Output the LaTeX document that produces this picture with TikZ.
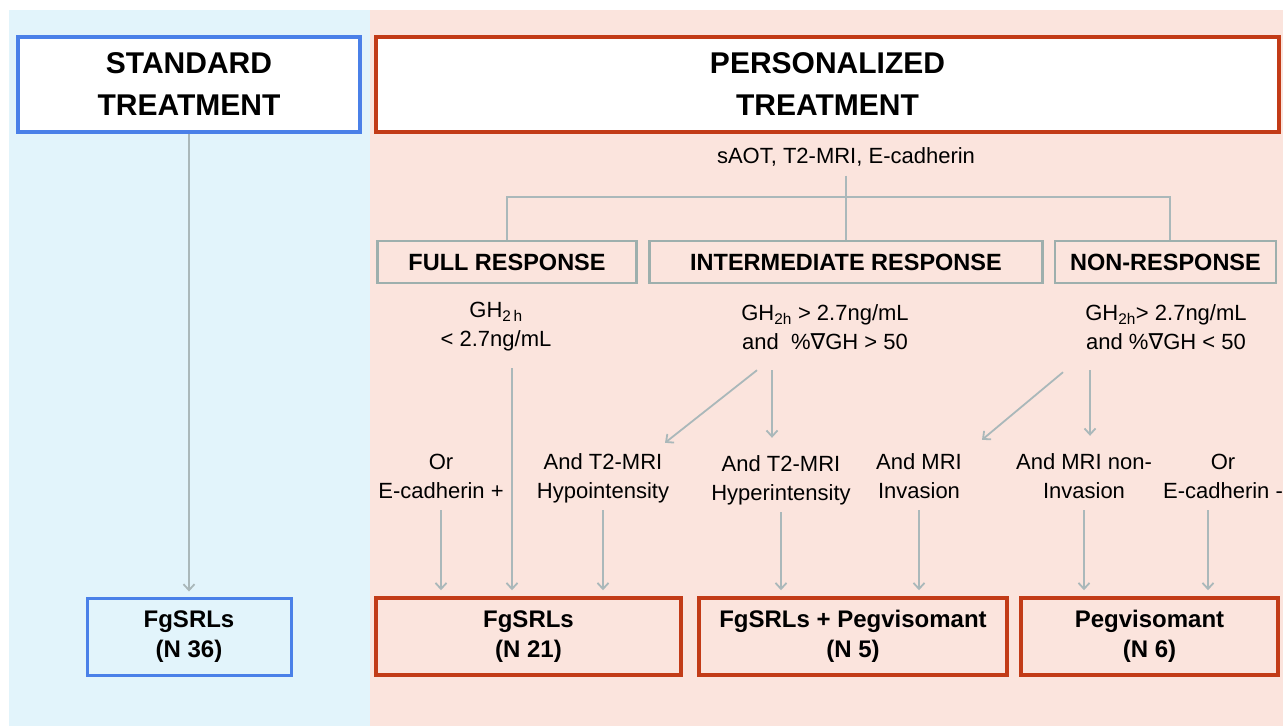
\documentclass[tikz,border=0pt]{standalone}
\usepackage{fontspec}
\setmainfont{Liberation Sans}
\newfontfamily\dv{DejaVu Sans}
\usetikzlibrary{arrows.meta}
\definecolor{bluebg}{HTML}{E2F4FB}
\definecolor{pinkbg}{HTML}{FBE4DD}
\definecolor{blueln}{HTML}{4A80E8}
\definecolor{redln}{HTML}{C23B17}
\definecolor{conn}{HTML}{AAB8BA}
\definecolor{respln}{HTML}{9DAFAD}
\begin{document}
\begin{tikzpicture}[x=1pt,y=-1pt,
  title/.style={font=\fontsize{30}{42}\selectfont\bfseries, align=center, fill=white, line width=3.5pt, inner sep=0pt, minimum height=95pt},
  resp/.style={draw=respln, line width=2.5pt, font=\fontsize{23.5}{28}\selectfont\bfseries, minimum height=42pt, inner sep=0pt},
  result/.style={draw=redln, line width=3.5pt, font=\fontsize{24}{30}\selectfont\bfseries, align=center, minimum height=77pt, inner sep=0pt},
  lab/.style={font=\fontsize{22}{29}\selectfont, align=center, inner sep=0pt},
  ln/.style={draw=conn, line width=1.8pt},
  arr/.style={ln, -{Straight Barb[length=6pt,width=11pt]}},
]
\useasboundingbox (0,0) rectangle (1283,726);
\fill[white] (0,0) rectangle (1283,726);
\fill[bluebg] (9,10) rectangle (370,726);
\fill[pinkbg] (370,10) rectangle (1283,726);

% title boxes
\node[title, draw=blueln, minimum width=342pt] (std) at (189,84.5) {STANDARD\\TREATMENT};
\node[title, draw=redln, line width=4pt, minimum width=903pt] (pers) at (827.5,84.5) {PERSONALIZED\\TREATMENT};

\node[lab] (saot) at (846,158) {\strut sAOT, T2-MRI, E-cadherin};

% response boxes
\node[resp, minimum width=259pt] (full) at (507,262) {FULL RESPONSE};
\node[resp, minimum width=393pt] (inter) at (846,262) {INTERMEDIATE RESPONSE};
\node[resp, minimum width=221pt] (non) at (1165.5,262) {NON-RESPONSE};

% tree
\coordinate (hub) at (846,197);
\draw[ln] ([yshift=-3pt]saot.south) -- (inter.north);
\draw[ln] (full.north) |- (hub) -| ([xshift=4.5pt]non.north);

% criteria
\node[lab] (gfull) at (496,326) {\strut GH\textsubscript{2\,h}\\\strut < 2.7ng/mL};
\node[lab] (ginter) at (825,329) {\strut GH\textsubscript{2h} > 2.7ng/mL\\\strut and\ \ \%{\dv ∇}GH > 50};
\node[lab] (gnon) at (1166,329) {\strut GH\textsubscript{2h}> 2.7ng/mL\\\strut and \%{\dv ∇}GH < 50};

% sub-criteria
\node[lab] (or1) at (441,478) {\strut Or\\\strut E-cadherin +};
\node[lab] (hypo) at (603,478) {\strut And T2-MRI\\\strut Hypointensity};
\node[lab] (hyper) at (781,480) {\strut And T2-MRI\\\strut Hyperintensity};
\node[lab] (inv) at (919,478) {\strut And MRI\\\strut Invasion};
\node[lab] (noninv) at (1084,478) {\strut And MRI non-\\\strut Invasion};
\node[lab] (or2) at (1223,478) {\strut Or\\\strut E-cadherin -};

% result boxes
\node[result, draw=blueln, line width=3pt, minimum width=204pt] (stdres) at (189,636.5) {FgSRLs\\(N 36)};
\node[result, minimum width=305pt] (b1) at (528.5,636.5) {FgSRLs\\(N 21)};
\node[result, minimum width=308pt] (b2) at (853,636.5) {FgSRLs + Pegvisomant\\(N 5)};
\node[result, minimum width=257pt] (b3) at (1149.5,636.5) {Pegvisomant\\(N 6)};

% arrows
\draw[arr, shorten >=5pt] (std.south) -- (stdres.north);

\coordinate (fa) at ([xshift=16pt,yshift=-13pt]gfull.south);
\draw[arr, shorten >=6pt] (fa) -- (fa |- b1.north);

\coordinate (ida) at ([xshift=-68pt,yshift=-12pt]ginter.south);
\coordinate (idb) at ([xshift=62pt,yshift=6pt]hypo.north);
\draw[arr] (ida) -- (idb);
\coordinate (iva) at ([xshift=-53pt,yshift=-12pt]ginter.south);
\draw[arr, shorten >=13pt] (iva) -- (iva |- hyper.north);

\coordinate (nda) at ([xshift=-103pt,yshift=-14pt]gnon.south);
\coordinate (ndb) at ([xshift=63pt,yshift=9pt]inv.north);
\draw[arr] (nda) -- (ndb);
\coordinate (nva) at ([xshift=-76pt,yshift=-12pt]gnon.south);
\draw[arr, shorten >=13pt] (nva) -- (nva |- noninv.north);

\draw[arr, shorten <=3pt, shorten >=6pt] (or1.south) -- (or1.south |- b1.north);
\draw[arr, shorten <=3pt, shorten >=6pt] (hypo.south) -- (hypo.south |- b1.north);
\draw[arr, shorten <=3pt, shorten >=6pt] (hyper.south) -- (hyper.south |- b2.north);
\draw[arr, shorten <=3pt, shorten >=6pt] (inv.south) -- (inv.south |- b2.north);
\draw[arr, shorten <=3pt, shorten >=6pt] (noninv.south) -- (noninv.south |- b3.north);
\coordinate (o2a) at ([xshift=-15pt,yshift=-3pt]or2.south);
\draw[arr, shorten >=6pt] (o2a) -- (o2a |- b3.north);
\end{tikzpicture}
\end{document}
